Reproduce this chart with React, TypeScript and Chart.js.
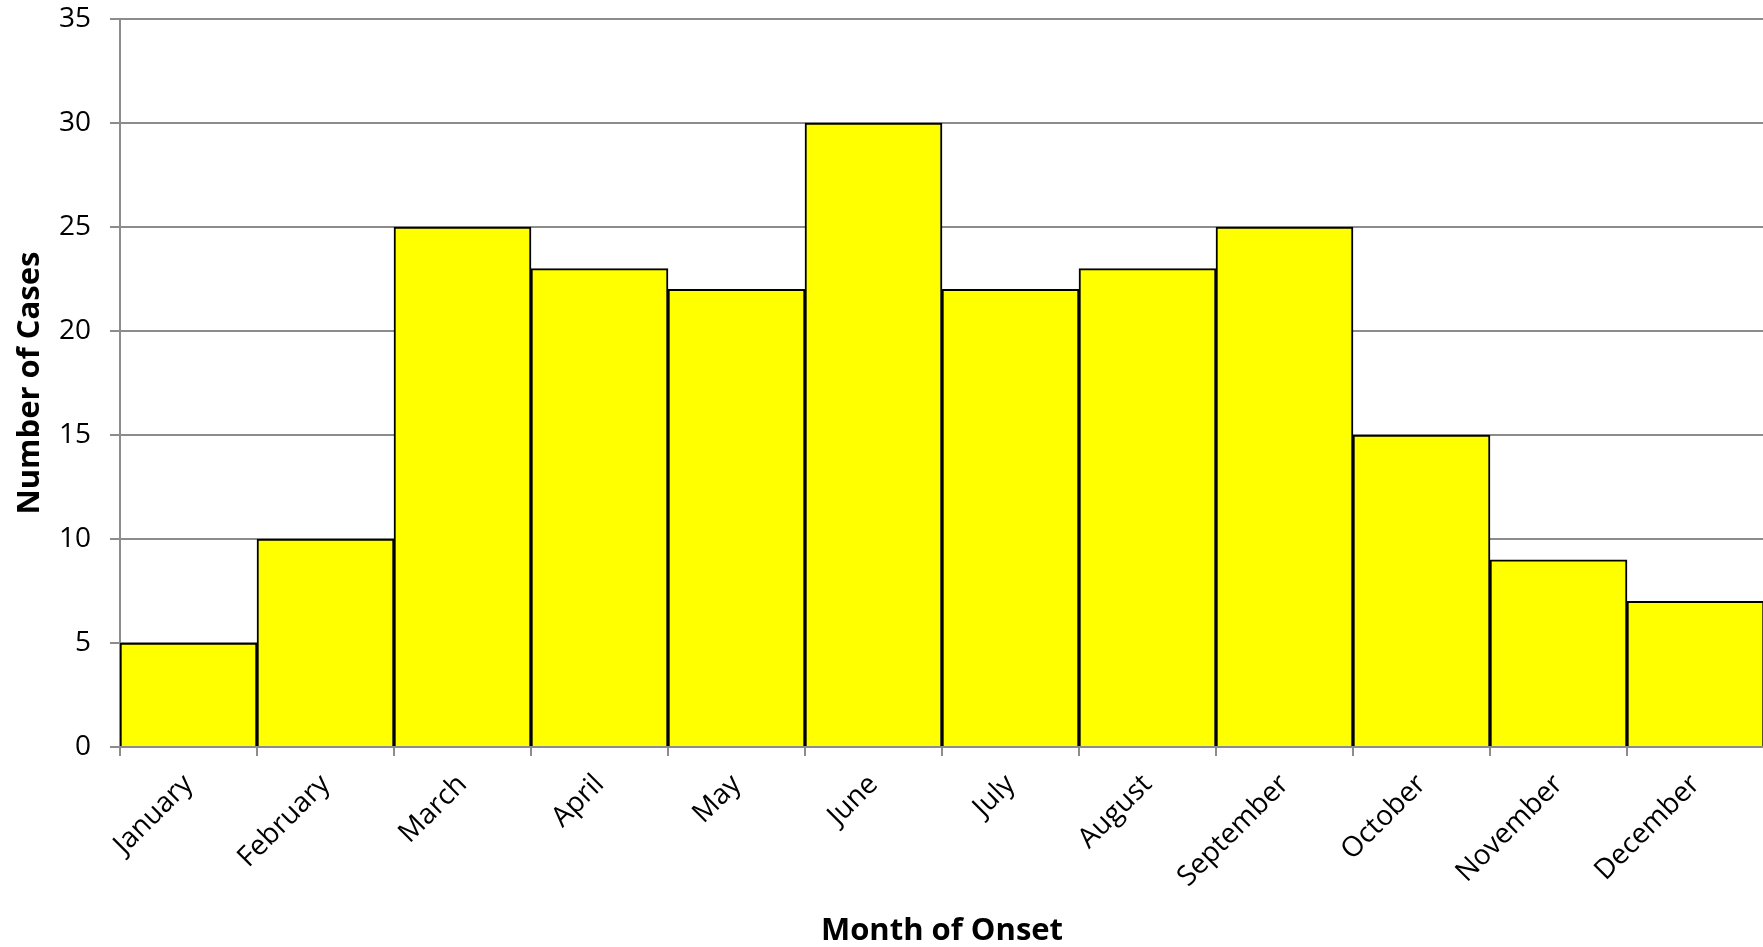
import React, { useEffect, useRef } from "react";
import { Chart, registerables } from "chart.js";

Chart.register(...registerables);

const months = [
  "January", "February", "March", "April", "May", "June",
  "July", "August", "September", "October", "November", "December",
];
const cases = [5, 10, 25, 23, 22, 30, 22, 23, 25, 15, 9, 7];
const yMin = 0;
const yMax = 35;
const yStep = 5;
const xTitle = "Month of Onset";
const yTitle = "Number of Cases";

const FONT = "'Open Sans', 'Noto Sans', sans-serif";
const GRID = "#8c8c8c";

export default function App() {
  const ref = useRef<HTMLCanvasElement | null>(null);

  useEffect(() => {
    document.body.style.margin = "0";
    document.body.style.overflow = "hidden";
    const canvas = ref.current;
    if (!canvas) return;
    const chart = new Chart(canvas, {
      type: "bar",
      data: {
        labels: months,
        datasets: [
          {
            data: cases,
            backgroundColor: "#ffff00",
            borderColor: "#000000",
            borderWidth: 2,
            barPercentage: 1,
            categoryPercentage: 1,
          },
        ],
      },
      options: {
        animation: false,
        responsive: false,
        maintainAspectRatio: false,
        layout: { padding: { left: 0, top: 19, right: 6, bottom: 0 } },
        plugins: { legend: { display: false }, tooltip: { enabled: false } },
        scales: {
          x: {
            offset: true,
            grid: {
              offset: true,
              drawOnChartArea: false,
              drawTicks: true,
              tickLength: 9,
              color: GRID,
              lineWidth: 2,
            },
            border: { color: GRID, width: 2 },
            ticks: {
              color: "#000",
              font: { family: FONT, size: 28 },
              minRotation: 45,
              maxRotation: 45,
              autoSkip: false,
              padding: 12,
            },
            title: {
              display: true,
              text: xTitle,
              color: "#000",
              font: { family: FONT, size: 31, weight: "bold", lineHeight: 1 },
              padding: { top: 0, bottom: 0 },
            },
            afterFit: (s: any) => {
              s.height = 200;
            },
          },
          y: {
            min: yMin,
            max: yMax,
            grid: {
              color: GRID,
              lineWidth: 2,
              drawTicks: true,
              tickLength: 10,
            },
            border: { color: GRID, width: 2 },
            ticks: {
              stepSize: yStep,
              color: "#000",
              font: { family: FONT, size: 28, lineHeight: 0 },
              padding: 19,
            },
            title: {
              display: true,
              text: yTitle,
              color: "#000",
              font: { family: FONT, size: 31, weight: "bold" },
              padding: { top: 12, bottom: 0 },
            },
            afterFit: (s: any) => {
              s.width = 120;
            },
          },
        },
      },
    });
    return () => chart.destroy();
  }, []);

  return (
    <div style={{ width: 1763, height: 947, overflow: "hidden", background: "#fff" }}>
      <canvas ref={ref} width={1770} height={947} style={{ width: 1770, height: 947, display: "block" }} />
    </div>
  );
}
